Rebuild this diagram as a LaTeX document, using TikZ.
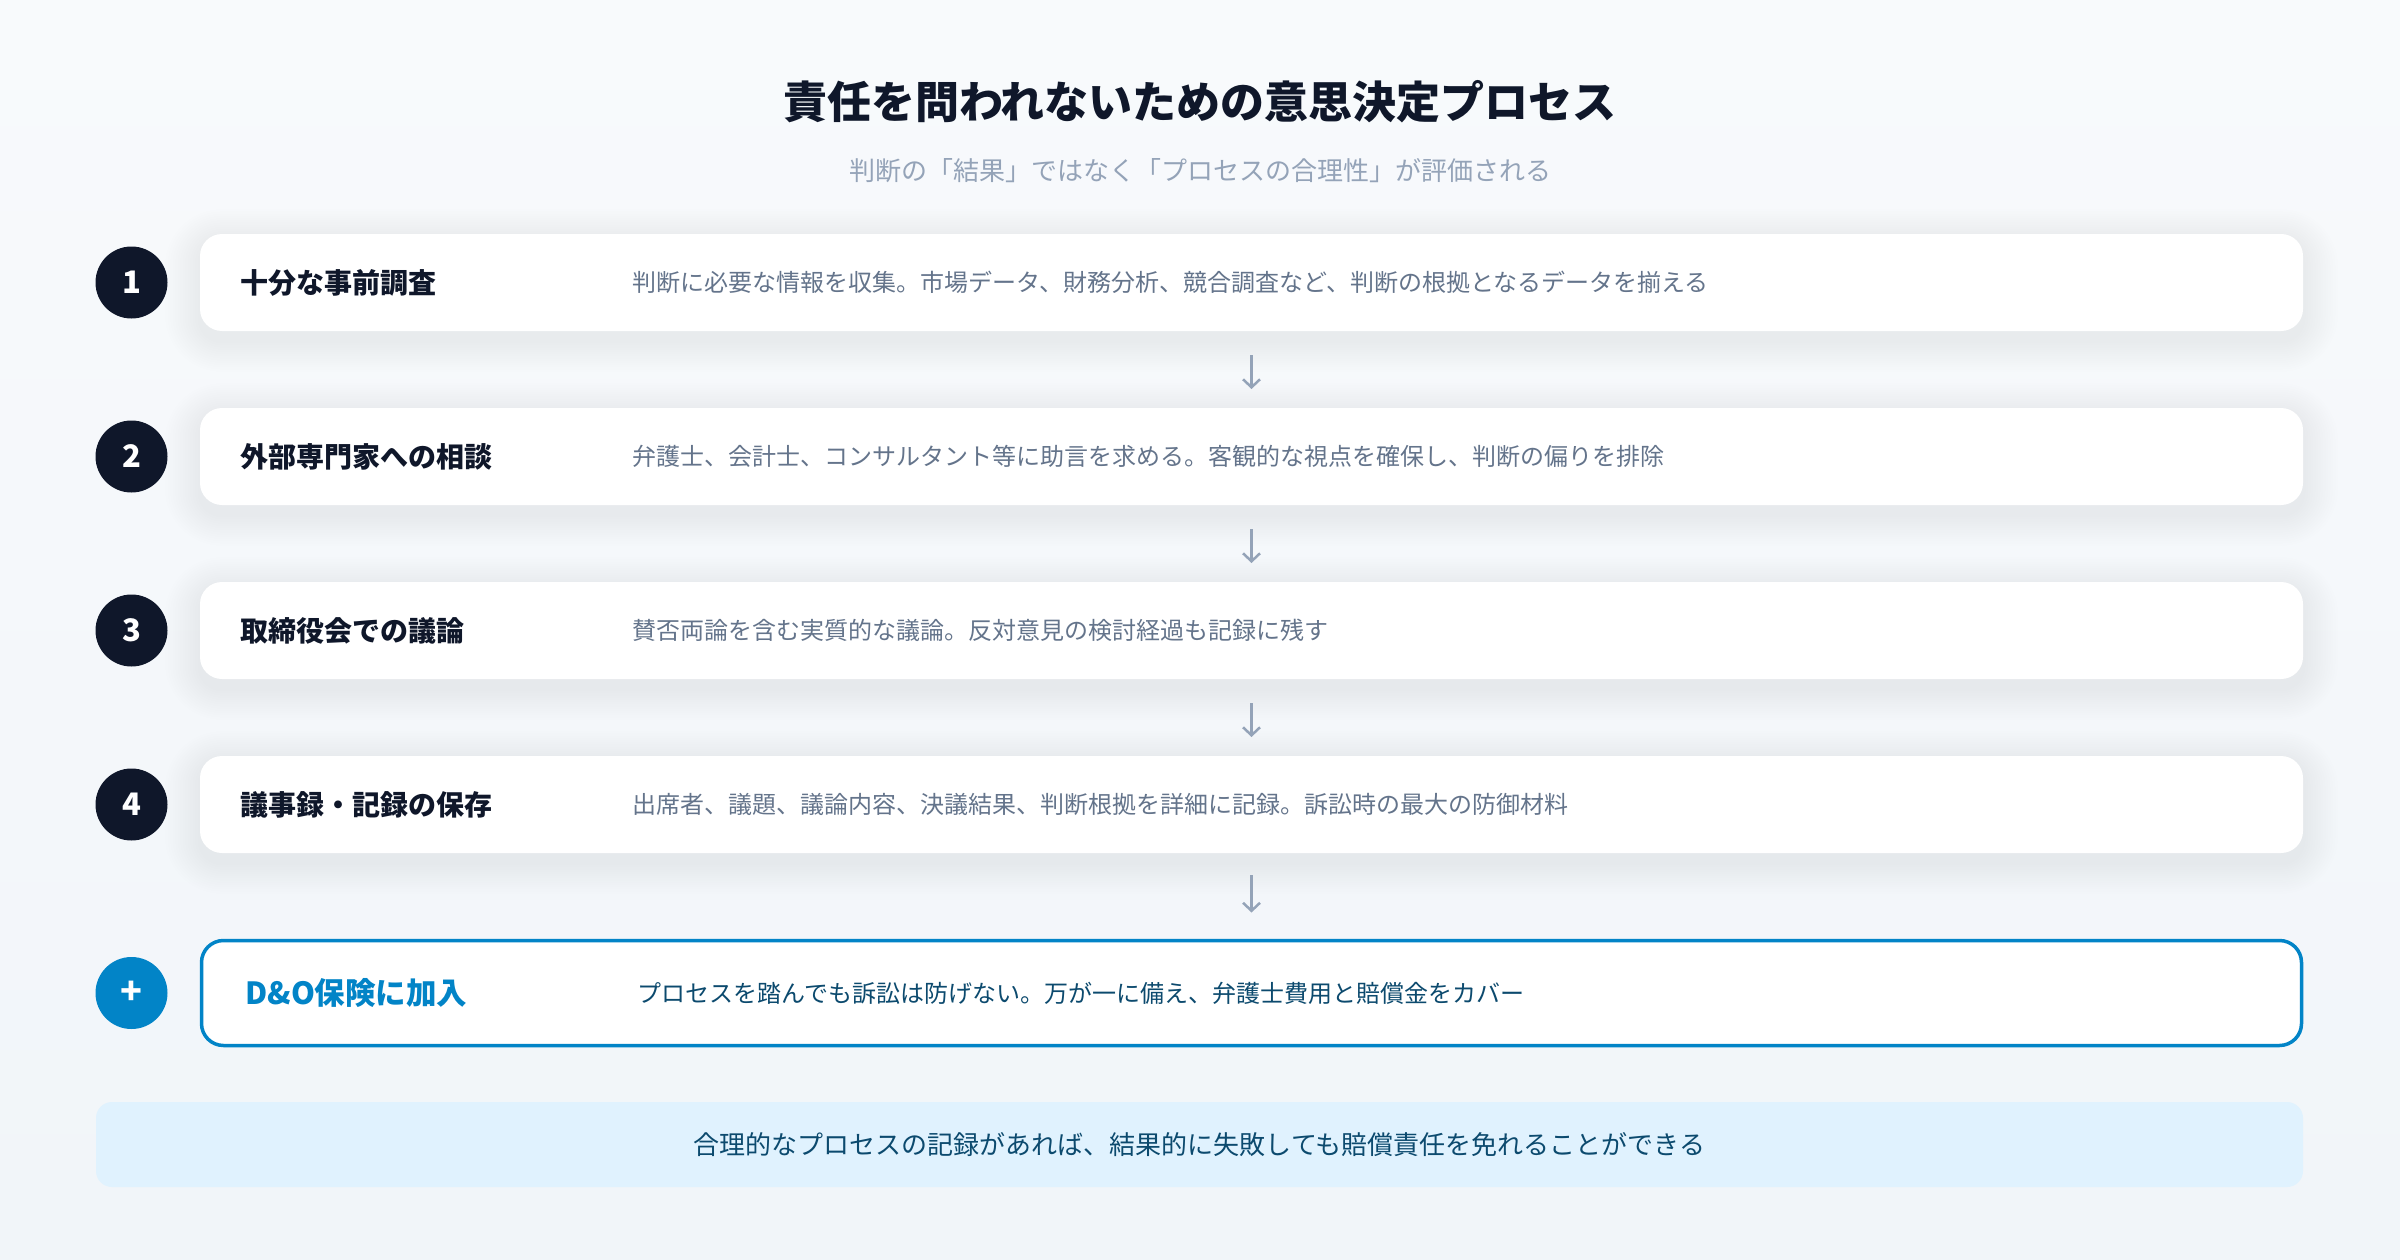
\documentclass[tikz,border=0pt]{standalone}
\usepackage{fontspec}
\setmainfont{Noto Sans CJK JP}
\usetikzlibrary{arrows.meta,calc}
\definecolor{navy}{HTML}{0F172A}
\definecolor{subgray}{HTML}{94A3B8}
\definecolor{descgray}{HTML}{64748B}
\definecolor{arrowgray}{HTML}{94A3B8}
\definecolor{dobule}{HTML}{0284C7}
\definecolor{deepblue}{HTML}{0C4A6E}
\definecolor{lightblue}{HTML}{E0F2FE}
\definecolor{bgtop}{HTML}{F8FAFC}
\definecolor{bgbot}{HTML}{F1F5F9}
\pgfdeclarelayer{bgl}
\pgfdeclarelayer{shl}
\pgfsetlayers{bgl,shl,main}
\tikzset{
  stepbox/.style={rectangle, rounded corners=22pt, fill=white, minimum width=2103pt, minimum height=97pt, inner sep=0pt, outer sep=0pt},
  dobox/.style={rectangle, rounded corners=22pt, fill=white, draw=dobule, line width=3.5pt, minimum width=2100pt, minimum height=105pt, inner sep=0pt, outer sep=0pt},
  notebox/.style={rectangle, rounded corners=16pt, fill=lightblue, minimum width=2207pt, minimum height=85pt, inner sep=0pt, text=deepblue, font=\fontsize{26}{26}\selectfont},
  numcirc/.style={circle, fill=navy, minimum size=72pt, inner sep=0pt, text=white, font=\bfseries\fontsize{31}{31}\selectfont},
  pluscirc/.style={circle, fill=dobule, minimum size=72pt, inner sep=0pt, text=white, font=\bfseries\fontsize{36}{36}\selectfont},
  steptitle/.style={anchor=west, inner sep=0pt, text=navy, font=\bfseries\fontsize{28}{28}\selectfont},
  stepdesc/.style={anchor=west, inner sep=0pt, text=descgray, font=\fontsize{24}{24}\selectfont},
  flowarrow/.style={draw=arrowgray, line width=2.5pt, -{Straight Barb[length=8pt,width=17pt,line width=2.5pt]}},
}
\begin{document}
\begin{tikzpicture}[x=1pt,y=-1pt]
\begin{pgfonlayer}{bgl}
\shade[top color=bgtop,bottom color=bgbot] (0,0) rectangle (2400,1260);
\end{pgfonlayer}
\useasboundingbox (0,0) rectangle (2400,1260);

% title
\node[inner sep=0pt, text=navy, font=\bfseries\fontsize{44}{44}\selectfont] (title) at (1200,102) {責任を問われないための意思決定プロセス};
\node[inner sep=0pt, text=subgray, font=\fontsize{26}{26}\selectfont] (subtitle) at (1200,171) {判断の「結果」ではなく「プロセスの合理性」が評価される};

% steps
\node[stepbox] (b1) at (1251.5,282.5) {};
\node[stepbox] (b2) at (1251.5,456.5) {};
\node[stepbox] (b3) at (1251.5,630.5) {};
\node[stepbox] (b4) at (1251.5,804.5) {};
\node[dobox] (b5) at (1251.5,993) {};

\node[numcirc] (c1) at (131.5,282.5) {1};
\node[numcirc] (c2) at (131.5,456.5) {2};
\node[numcirc] (c3) at (131.5,630.5) {3};
\node[numcirc] (c4) at (131.5,804.5) {4};
\node[pluscirc] (c5) at (131.5,993) {+};

\node[steptitle] (t1) at (240,282.5) {十分な事前調査};
\node[steptitle] (t2) at (240,456.5) {外部専門家への相談};
\node[steptitle] (t3) at (240,630.5) {取締役会での議論};
\node[steptitle] (t4) at (240,804.5) {議事録・記録の保存};
\node[steptitle, text=dobule, font=\bfseries\fontsize{30.5}{30.5}\selectfont] (t5) at (245,993) {D\&O保険に加入};

\node[stepdesc] (d1) at (632,282.5) {判断に必要な情報を収集。市場データ、財務分析、競合調査など、判断の根拠となるデータを揃える};
\node[stepdesc] (d2) at (632,456.5) {弁護士、会計士、コンサルタント等に助言を求める。客観的な視点を確保し、判断の偏りを排除};
\node[stepdesc] (d3) at (632,630.5) {賛否両論を含む実質的な議論。反対意見の検討経過も記録に残す};
\node[stepdesc] (d4) at (632,804.5) {出席者、議題、議論内容、決議結果、判断根拠を詳細に記録。訴訟時の最大の防御材料};
\node[stepdesc, text=deepblue] (d5) at (637,993) {プロセスを踏んでも訴訟は防げない。万が一に備え、弁護士費用と賠償金をカバー};

% arrows
\draw[flowarrow, shorten <=24pt, shorten >=19pt] (b1) -- (b2);
\draw[flowarrow, shorten <=24pt, shorten >=19pt] (b2) -- (b3);
\draw[flowarrow, shorten <=24pt, shorten >=19pt] (b3) -- (b4);
\draw[flowarrow, shorten <=22pt, shorten >=28pt] (b4) -- (b5);

% note
\node[notebox] (note) at (1199.5,1144.5) {合理的なプロセスの記録があれば、結果的に失敗しても賠償責任を免れることができる};

% shadows
\begin{pgfonlayer}{shl}
\foreach \b in {b1,b2,b3,b4}{
  \foreach \i in {1,...,14}{
    \pgfmathsetmacro{\rr}{22+2.5*\i}
    \pgfmathsetmacro{\sx}{2.5*\i}
    \pgfmathsetmacro{\sy}{2.2*\i}
    \fill[black, opacity=0.0035, rounded corners=\rr pt]
      ($(\b.south west)+(-\sx pt,-10pt-\sy pt)$) rectangle ($(\b.north east)+(\sx pt,-6pt+\sy pt)$);
  }
}
\end{pgfonlayer}
\end{tikzpicture}
\end{document}
